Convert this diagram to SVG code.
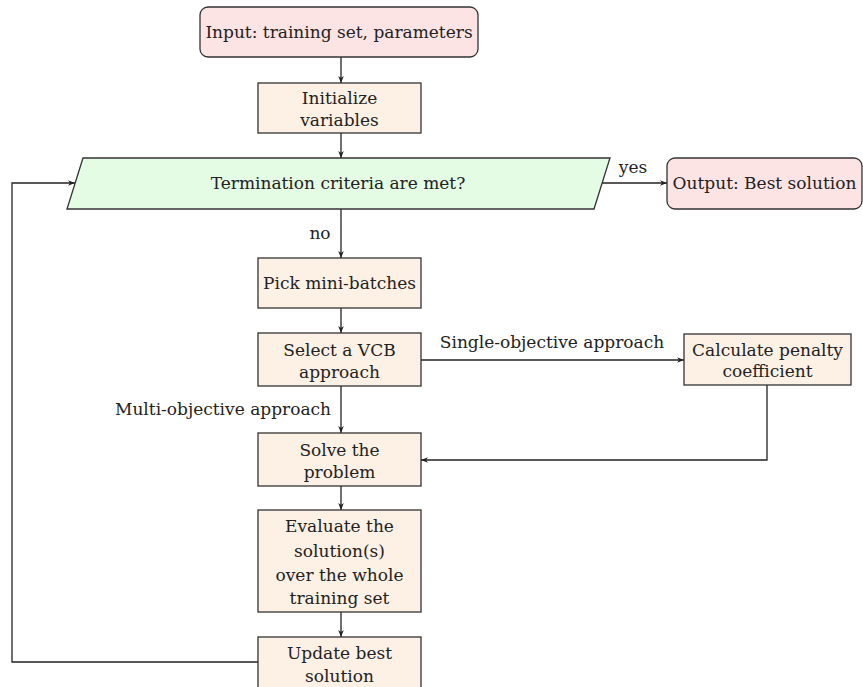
<svg xmlns="http://www.w3.org/2000/svg" width="863" height="687" viewBox="0 0 863 687">
<defs>
<marker id="ah" viewBox="0 0 10 10" refX="10" refY="5" markerWidth="7" markerHeight="7" orient="auto" markerUnits="userSpaceOnUse">
<path d="M0,1 L10,5 L0,9 L3,5 Z" fill="#222"/>
</marker>
</defs>
<style>
text{font-family:"DejaVu Serif","Liberation Serif",serif;font-size:17px;fill:#222;text-anchor:middle}
.io{fill:#fde4e4;stroke:#333;stroke-width:1.3}
.pr{fill:#fdf1e5;stroke:#333;stroke-width:1.3}
.dc{fill:#e4fbe4;stroke:#333;stroke-width:1.3}
.c{fill:none;stroke:#222;stroke-width:1.3;marker-end:url(#ah)}
</style>
<rect width="863" height="687" fill="#fff"/>
<g id="connectors">
<path class="c" d="M341,57 V83"/>
<path class="c" d="M341,133 V158"/>
<path class="c" d="M341,209 V258"/>
<path class="c" d="M602,183 H667"/>
<path class="c" d="M341,308 V333"/>
<path class="c" d="M421,360 H684"/>
<path class="c" d="M341,386 V433"/>
<path class="c" d="M767,385 V460 H421"/>
<path class="c" d="M341,486 V510"/>
<path class="c" d="M341,612 V637"/>
<path class="c" d="M258,662 H12 V183 H75"/>
<text x="633" y="173">yes</text>
<text x="320" y="239">no</text>
<text x="552" y="348">Single-objective approach</text>
<text x="331" y="415" style="text-anchor:end">Multi-objective approach</text>
</g>
<g id="input">
<rect class="io" x="200" y="7" width="278" height="50" rx="8"/>
<text x="339" y="38">Input: training set, parameters</text>
</g>
<g id="init">
<rect class="pr" x="258" y="83" width="163" height="50"/>
<text x="339.5" y="104">Initialize</text>
<text x="339.5" y="126">variables</text>
</g>
<g id="term">
<polygon class="dc" points="83,158 610,158 594,209 67,209"/>
<text x="338" y="189">Termination criteria are met?</text>
</g>
<g id="output">
<rect class="io" x="667" y="158" width="195" height="51" rx="8"/>
<text x="764.5" y="189">Output: Best solution</text>
</g>
<g id="pick">
<rect class="pr" x="258" y="258" width="163" height="50"/>
<text x="339.5" y="289">Pick mini-batches</text>
</g>
<g id="select">
<rect class="pr" x="258" y="333" width="163" height="53"/>
<text x="339.5" y="356">Select a VCB</text>
<text x="339.5" y="378">approach</text>
</g>
<g id="penalty">
<rect class="pr" x="684" y="334" width="167" height="51"/>
<text x="767.5" y="356">Calculate penalty</text>
<text x="767.5" y="377">coefficient</text>
</g>
<g id="solve">
<rect class="pr" x="258" y="433" width="163" height="53"/>
<text x="339.5" y="456">Solve the</text>
<text x="339.5" y="478">problem</text>
</g>
<g id="evaluate">
<rect class="pr" x="258" y="510" width="163" height="102"/>
<text x="339.5" y="532">Evaluate the</text>
<text x="339.5" y="557">solution(s)</text>
<text x="339.5" y="581">over the whole</text>
<text x="339.5" y="604">training set</text>
</g>
<g id="update">
<rect class="pr" x="258" y="637" width="163" height="52"/>
<text x="339.5" y="659">Update best</text>
<text x="339.5" y="682">solution</text>
</g>
</svg>
